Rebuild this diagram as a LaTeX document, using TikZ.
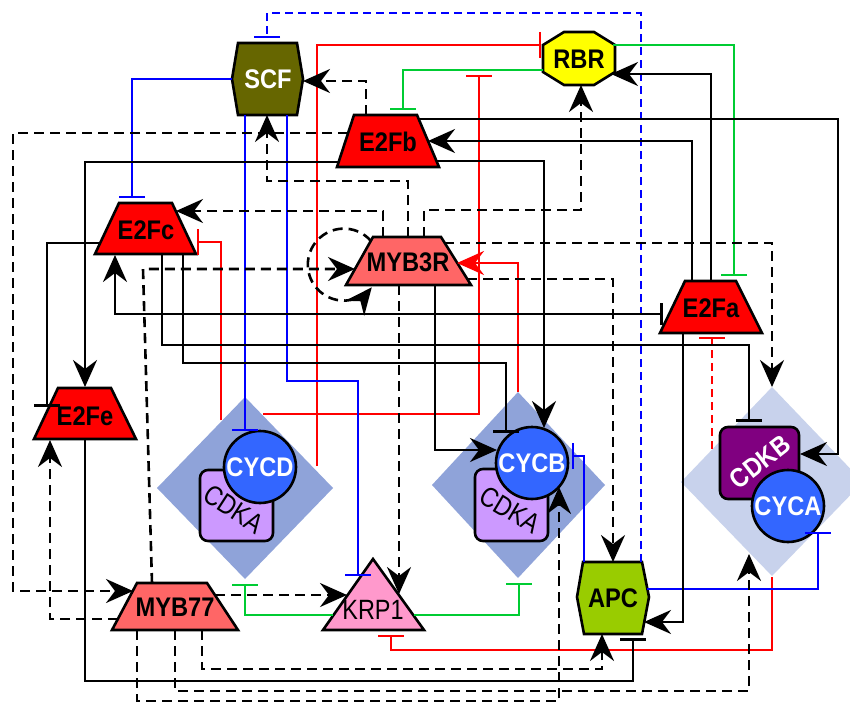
\documentclass[tikz,border=0pt]{standalone}
\usepackage{fontspec}
\setmainfont{Liberation Sans}[FakeStretch=0.88]
\newfontfamily\narrowfont{Liberation Sans}[FakeStretch=0.84]
\usetikzlibrary{arrows.meta}
\definecolor{e2fred}{RGB}{255,0,0}
\definecolor{mybc}{RGB}{255,102,102}
\definecolor{scfc}{RGB}{102,102,0}
\definecolor{rbrc}{RGB}{255,255,0}
\definecolor{krpc}{RGB}{255,153,204}
\definecolor{apcc}{RGB}{153,204,0}
\definecolor{cycc}{RGB}{51,102,255}
\definecolor{cdkac}{RGB}{204,153,255}
\definecolor{cdkbc}{RGB}{128,0,128}
\definecolor{dmd}{RGB}{143,163,217}
\definecolor{dmdl}{RGB}{200,210,236}
\definecolor{grn}{RGB}{0,204,51}
\definecolor{blu}{RGB}{0,0,255}
\definecolor{rd}{RGB}{255,0,0}
\begin{document}
\begin{tikzpicture}[x=1bp,y=-1bp,
  ln/.style={line width=2.6bp},
  lnc/.style={line width=2.4bp},
  dsh/.style={dash pattern=on 10bp off 6bp},
  dshc/.style={dash pattern=on 8bp off 5bp},
  act/.style={-{Stealth[length=27bp,width=24bp,inset=9bp]}},
  inh/.style={-{Bar[width=26bp]}},
  actinh/.style={{Stealth[length=27bp,width=24bp,inset=9bp]}-{Bar[width=22bp]}},
  shp/.style={draw=black,line width=2.6bp,line join=miter},
  lbl/.style={inner sep=0pt,font=\fontsize{27}{29}\selectfont\bfseries},
  lblr/.style={inner sep=0pt,font=\narrowfont\fontsize{28}{30}\selectfont}]
\useasboundingbox (0,0) rectangle (850,704);
\fill[white] (0,0) rectangle (850,704);

% complexes
\fill[dmd] (245,397) -- (333,488) -- (245,579) -- (157,488) -- cycle;
\fill[dmd] (518,392) -- (605,485) -- (518,578) -- (432,485) -- cycle;
\fill[dmdl] (772,387) -- (863,482) -- (772,576) -- (681,482) -- cycle;

\draw[shp,fill=cdkac,rounded corners=8bp] (200,470) rectangle (273,541);
\draw[shp,fill=cycc] (260,467) circle[radius=36];
\node[lblr,rotate=-33] (CDKA1) at (234,509) {CDKA};
\node[lbl,text=white] (CYCD) at (260,467) {CYCD};

\draw[shp,fill=cdkac,rounded corners=8bp] (475,469) rectangle (548,541);
\draw[shp,fill=cycc] (532,463) circle[radius=36];
\node[lblr,rotate=-31] (CDKA2) at (510,510) {CDKA};
\node[lbl,text=white] (CYCB) at (532,463) {CYCB};

\draw[shp,fill=cdkbc,rounded corners=8bp] (720,427) rectangle (799,499);
\draw[shp,fill=cycc] (788,506) circle[radius=36];
\node[lbl,text=white,rotate=38] (CDKB) at (760,462) {CDKB};
\node[lbl,text=white] (CYCA) at (788,506) {CYCA};

% nodes
\draw[shp,fill=scfc] (238,43) -- (297,43) -- (303,79) -- (297,115) -- (238,115) -- (232,79) -- cycle;
\node[lbl,text=white] (SCF) at (268,79) {SCF};
\draw[shp,fill=rbrc] (564,32) -- (594,32) -- (615,45) -- (615,72) -- (594,85) -- (564,85) -- (543,72) -- (543,45) -- cycle;
\node[lbl] (RBR) at (579,59) {RBR};
\draw[shp,fill=e2fred] (354,115) -- (417,115) -- (439,167) -- (337,167) -- cycle;
\node[lbl] (E2Fb) at (388,142) {E2Fb};
\draw[shp,fill=e2fred] (119,203) -- (172,203) -- (196,254) -- (95,254) -- cycle;
\node[lbl] (E2Fc) at (146,230) {E2Fc};
\draw[shp,fill=mybc] (373,237) -- (441,237) -- (471,285) -- (346,285) -- cycle;
\node[lbl] (MYB3R) at (408,262) {MYB3R};
\draw[shp,fill=e2fred] (685,281) -- (736,281) -- (762,333) -- (660,333) -- cycle;
\node[lbl] (E2Fa) at (711,308) {E2Fa};
\draw[shp,fill=e2fred] (58,388) -- (111,388) -- (136,439) -- (34,439) -- cycle;
\node[lbl] (E2Fe) at (85,416) {E2Fe};
\draw[shp,fill=mybc] (137,583) -- (207,583) -- (238,630) -- (112,630) -- cycle;
\node[lbl] (MYB77) at (175,607) {MYB77};
\draw[shp,fill=krpc] (373,559) -- (424,630) -- (323,630) -- cycle;
\node[lblr] (KRP1) at (373,610) {KRP1};
\draw[shp,fill=apcc] (583,562) -- (642,562) -- (649,597) -- (642,634) -- (584,634) -- (577,597) -- cycle;
\node[lbl] (APC) at (613,598) {APC};

% blue dashed
\draw[lnc,blu,dshc,inh] (641,562) -- (641,13) -- (267,13) -- (267,38);
% red
\draw[lnc,rd,inh] (317,466) -- (317,45) -- (541,45);
\draw[lnc,rd,inh] (263,414) -- (479,414) -- (479,75);
\draw[lnc,rd,act] (518,392) -- (518,263) -- (457,263);
\draw[lnc,rd,inh] (221,420) -- (221,242) -- (197,242);
\draw[lnc,rd,inh] (772,577) -- (772,650) -- (391,650) -- (391,635);
\draw[lnc,rd,dshc,inh] (712,449) -- (712,337);
% green
\draw[lnc,grn,inh] (613,45) -- (734,45) -- (734,276);
\draw[lnc,grn,inh] (543,70) -- (403,70) -- (403,110);
\draw[lnc,grn,inh] (333,615) -- (245,615) -- (245,584);
\draw[lnc,grn,inh] (414,615) -- (519,615) -- (519,583);
% blue
\draw[lnc,blu,inh] (232,79) -- (132,79) -- (132,198);
\draw[lnc,blu,inh] (245,115) -- (245,431);
\draw[lnc,blu,inh] (287,115) -- (287,381) -- (358,381) -- (358,576);
\draw[lnc,blu,inh] (584,562) -- (584,456) -- (572,456);
\draw[lnc,blu,inh] (647,589) -- (818,589) -- (818,532);
% black solid
\draw[ln,act] (338,162) -- (85,162) -- (85,387);
\draw[ln,act] (437,161) -- (544,161) -- (544,428);
\draw[ln,act] (419,119) -- (838,119) -- (838,454) -- (800,454);
\draw[ln,act] (692,281) -- (692,141) -- (428,141);
\draw[ln,act] (711,281) -- (711,74) -- (611,74);
\draw[ln,actinh] (115,255) -- (115,314) -- (663,314);
\draw[ln,inh] (162,254) -- (162,345) -- (749,345) -- (749,422);
\draw[ln,inh] (183,254) -- (183,363) -- (506,363) -- (506,433);
\draw[ln,inh] (100,243) -- (47,243) -- (47,407);
\draw[ln,act] (435,285) -- (435,450) -- (497,450);
\draw[ln,act] (683,333) -- (683,622) -- (644,622);
\draw[ln,inh] (85,439) -- (85,681) -- (633,681) -- (633,638);
% black dashed
\draw[ln,dsh,act] (366,115) -- (366,81) -- (303,81);
\draw[ln,dsh,act] (408,237) -- (408,181) -- (267,181) -- (267,115);
\draw[ln,dsh,act] (383,237) -- (383,211) -- (176,211);
\draw[ln,dsh,act] (424,237) -- (424,210) -- (581,210) -- (581,85);
\draw[ln,dsh,act] (444,243) -- (772,243) -- (772,387);
\draw[ln,dsh,act] (467,279) -- (613,279) -- (613,562);
\draw[ln,dsh,act] (399,285) -- (399,594);
\draw[ln,dsh,act] (371,241) arc[start angle=-41,end angle=-321,radius=36];
\draw[ln,dsh,act] (152,583) -- (143,269) -- (355,269);
\draw[ln,dsh,act] (118,619) -- (50,619) -- (50,440);
\draw[ln,dsh,act] (348,133) -- (13,133) -- (13,591) -- (133,591);
\draw[ln,dsh,act] (215,595) -- (347,595);
\draw[ln,dsh,act] (202,630) -- (202,669) -- (602,669) -- (602,634);
\draw[ln,dsh,act] (175,630) -- (175,691) -- (749,691) -- (749,554);
\draw[ln,dsh,act] (137,630) -- (137,701) -- (559,701) -- (559,487);
\end{tikzpicture}
\end{document}
